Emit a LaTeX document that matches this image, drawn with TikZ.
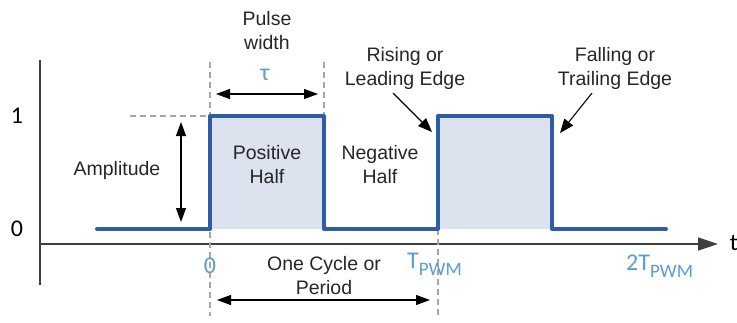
\documentclass[tikz,border=0pt]{standalone}
\usepackage{fontspec}
\setmainfont{Liberation Sans}
\newfontfamily\calfont{Carlito}
\usetikzlibrary{arrows.meta}
\definecolor{wblue}{HTML}{2E5DA6}
\definecolor{wfill}{HTML}{DCE3EE}
\definecolor{lblue}{HTML}{5B9BD5}
\definecolor{txt}{HTML}{262626}
\definecolor{guidegray}{HTML}{A6A6A6}
\definecolor{axisgray}{HTML}{3F3F3F}
\begin{document}
\begin{tikzpicture}[x=1pt,y=-1pt,
  lbl/.style={text=txt, font=\fontsize{19.5}{24}\selectfont, align=center, inner sep=0pt},
  num/.style={font=\calfont\fontsize{24}{26}\selectfont, inner sep=0pt, text=black},
  bnum/.style={num, text=lblue},
  dimarrow/.style={{Triangle[length=14pt,width=10pt]}-{Triangle[length=14pt,width=10pt]}, line width=1.1pt, draw=black},
  ptr/.style={-{Triangle[length=14pt,width=11pt]}, line width=1.1pt, draw=black},
  guide/.style={draw=guidegray, dash pattern=on 6pt off 4pt, line width=1.1pt},
  wave/.style={draw=wblue, line width=4pt, line join=round, line cap=round},
  axis/.style={draw=axisgray, line width=1.4pt}]
\useasboundingbox (0,0) rectangle (737,322);

% axes
\coordinate (yb) at (40,285);
\coordinate (yt) at (40,60);
\coordinate (xl) at (40,244);
\coordinate (xr) at (718,244);
\draw[axis] (yb) -- (yt);
\draw[axis, -{Triangle[length=20pt,width=13pt]}] (xl) -- (xr);

% waveform corners
\coordinate (w0) at (97,229);
\coordinate (r1l) at (210,229);
\coordinate (r1h) at (210,116);
\coordinate (f1h) at (324,116);
\coordinate (f1l) at (324,229);
\coordinate (r2l) at (438,229);
\coordinate (r2h) at (438,116);
\coordinate (f2h) at (552,116);
\coordinate (f2l) at (552,229);
\coordinate (w1) at (666,229);

\fill[wfill] (r1l) rectangle (f1h);
\fill[wfill] (r2l) rectangle (f2h);

% guides
\coordinate (g1t) at (210,62);
\coordinate (g1b) at (210,316);
\coordinate (g2t) at (324,62);
\coordinate (g3b) at (438,318);
\coordinate (g4l) at (130,116);
\draw[guide] (g1t) -- (g1b);
\draw[guide] (g2t) -- (f1h);
\draw[guide] (r2l) -- (g3b);
\draw[guide] (g4l) -- (r1h);

\draw[wave] (w0) -- (r1l) -- (r1h) -- (f1h) -- (f1l) -- (r2l) -- (r2h) -- (f2h) -- (f2l) -- (w1);

% dimension arrows
\coordinate (a1) at (181,122);
\coordinate (a2) at (181,222);
\draw[dimarrow] (a1) -- (a2);
\coordinate (p1) at (216,94);
\coordinate (p2) at (318,94);
\draw[dimarrow] (p1) -- (p2);
\coordinate (c1) at (217,300);
\coordinate (c2) at (430,300);
\draw[dimarrow] (c1) -- (c2);

% axis numbers
\node[num] (one) at (17,116) {1};
\node[num] (zero) at (17,229) {0};
\node[num] (t) at (734,243) {t};
\node[bnum] (z) at (210,266) {0};
\node[bnum] (tau) at (265,75) {τ};
\node[bnum, anchor=west] (tp) at (407,264) {T\raisebox{-0.3em}{\fontsize{19}{19}\selectfont PWM}};
\node[bnum, anchor=west] (ttp) at (626,266) {2T\raisebox{-0.3em}{\fontsize{19}{19}\selectfont PWM}};

% labels
\node[lbl] (pw) at (267,31) {Pulse\\width};
\node[lbl] (amp) at (117,170) {Amplitude};
\node[lbl] (pos) at (267,165) {Positive\\Half};
\node[lbl] (neg) at (380,165) {Negative\\Half};
\node[lbl] (rise) at (405,68) {Rising or\\Leading Edge};
\node[lbl] (fall) at (615,68) {Falling or\\Trailing Edge};
\node[lbl] (cyc) at (324,276) {One Cycle or\\Period};

% edge pointers
\coordinate (rs) at (393,93);
\coordinate (re) at (432,132);
\coordinate (fs) at (592,93);
\coordinate (fe) at (560,133);
\draw[ptr] (rs) -- (re);
\draw[ptr] (fs) -- (fe);
\end{tikzpicture}
\end{document}
